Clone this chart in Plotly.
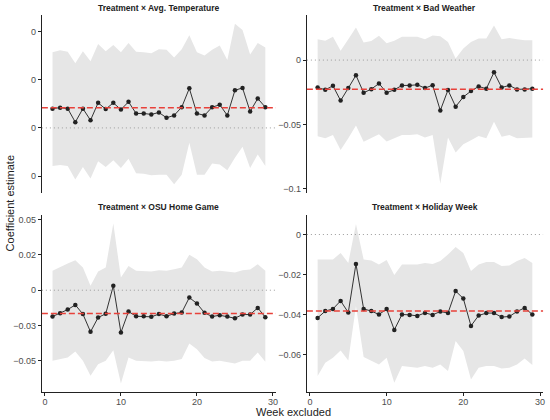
import plotly.graph_objects as go

weeks = list(range(1, 30))

# Treatment x Avg. Temperature (values are tiny, axis labels all round to 0)
temp_est = [0.40, 0.42, 0.40, 0.12, 0.40, 0.16, 0.52, 0.39, 0.52, 0.38, 0.54, 0.30, 0.30, 0.28, 0.32,
            0.21, 0.26, 0.43, 0.82, 0.30, 0.26, 0.43, 0.48, 0.26, 0.78, 0.83, 0.34, 0.61, 0.43]
temp_hi = [1.57, 1.61, 1.58, 1.34, 1.59, 1.38, 1.74, 1.59, 1.72, 1.57, 1.76, 1.58, 1.57, 1.55, 1.63,
           1.62, 1.46, 1.63, 1.92, 1.57, 1.50, 1.62, 1.71, 1.41, 2.16, 2.03, 1.52, 1.76, 1.67]
temp_lo = [-0.79, -0.77, -0.79, -1.07, -0.81, -1.05, -0.69, -0.81, -0.67, -0.83, -0.64, -0.94, -0.95, -0.98, -0.97,
           -0.97, -1.17, -0.97, -0.31, -0.97, -0.97, -0.74, -0.76, -0.88, -0.62, -0.39, -0.83, -0.55, -0.79]
temp_est = [v * 0.001 for v in temp_est]
temp_hi = [v * 0.001 for v in temp_hi]
temp_lo = [v * 0.001 for v in temp_lo]

# Treatment x Bad Weather
bad_est = [-0.0213, -0.0231, -0.0200, -0.0315, -0.0218, -0.0118, -0.0254, -0.0226, -0.0182, -0.0254,
           -0.0231, -0.0197, -0.0197, -0.0192, -0.0218, -0.0195, -0.0392, -0.0233, -0.0362, -0.0287,
           -0.0241, -0.0205, -0.0223, -0.0095, -0.0213, -0.0197, -0.0228, -0.0228, -0.0223]
bad_hi = [0.0162, 0.0151, 0.0182, 0.0072, 0.0162, 0.0254, 0.0136, 0.0149, 0.0190, 0.0131,
          0.0151, 0.0182, 0.0182, 0.0182, 0.0162, 0.0192, 0.0185, 0.0141, 0.0013, 0.0090,
          0.0141, 0.0167, 0.0167, 0.0269, 0.0162, 0.0172, 0.0162, 0.0154, 0.0154]
bad_lo = [-0.0592, -0.0608, -0.0582, -0.0700, -0.0608, -0.0508, -0.0636, -0.0608, -0.0577, -0.0633,
          -0.0608, -0.0582, -0.0582, -0.0577, -0.0603, -0.0582, -0.0962, -0.0603, -0.0718, -0.0654,
          -0.0623, -0.0590, -0.0608, -0.0479, -0.0597, -0.0582, -0.0608, -0.0608, -0.0603]

# Treatment x OSU Home Game
osu_est = [-0.0186, -0.0162, -0.0137, -0.0104, -0.0169, -0.0294, -0.0193, -0.0167, 0.0031, -0.0299,
           -0.0151, -0.0184, -0.0184, -0.0188, -0.0169, -0.0184, -0.0165, -0.0158, -0.0052, -0.0094,
           -0.0160, -0.0186, -0.0177, -0.0186, -0.0198, -0.0172, -0.0172, -0.0125, -0.0191]
osu_hi = [0.0137, 0.0160, 0.0188, 0.0212, 0.0160, 0.0031, 0.0132, 0.0160, 0.0471, 0.0089,
          0.0172, 0.0137, 0.0137, 0.0132, 0.0141, 0.0137, 0.0148, 0.0160, 0.0250, 0.0219,
          0.0160, 0.0132, 0.0137, 0.0132, 0.0125, 0.0141, 0.0146, 0.0184, 0.0137]
osu_lo = [-0.0499, -0.0490, -0.0476, -0.0433, -0.0499, -0.0605, -0.0523, -0.0499, -0.0424, -0.0659,
          -0.0476, -0.0499, -0.0504, -0.0504, -0.0499, -0.0504, -0.0499, -0.0487, -0.0377, -0.0417,
          -0.0480, -0.0504, -0.0499, -0.0511, -0.0518, -0.0499, -0.0499, -0.0440, -0.0506]

# Treatment x Holiday Week
hol_est = [-0.0417, -0.0383, -0.0372, -0.0332, -0.0390, -0.0147, -0.0372, -0.0383, -0.0400, -0.0373,
           -0.0477, -0.0400, -0.0402, -0.0407, -0.0392, -0.0402, -0.0385, -0.0393, -0.0283, -0.0320,
           -0.0457, -0.0405, -0.0393, -0.0393, -0.0413, -0.0410, -0.0385, -0.0367, -0.0400]
hol_hi = [-0.0125, -0.0125, -0.0125, -0.0092, -0.0142, 0.0053, -0.0125, -0.0130, -0.0150, -0.0128,
          -0.0203, -0.0150, -0.0150, -0.0150, -0.0142, -0.0147, -0.0133, -0.0100, -0.0062, -0.0092,
          -0.0183, -0.0150, -0.0138, -0.0138, -0.0158, -0.0155, -0.0133, -0.0117, -0.0142]
hol_lo = [-0.0708, -0.0642, -0.0617, -0.0580, -0.0630, -0.0358, -0.0613, -0.0633, -0.0650, -0.0617,
          -0.0742, -0.0658, -0.0662, -0.0667, -0.0658, -0.0667, -0.0650, -0.0683, -0.0533, -0.0583,
          -0.0725, -0.0667, -0.0658, -0.0658, -0.0670, -0.0667, -0.0650, -0.0620, -0.0653]

titles = ["Treatment × Avg. Temperature", "Treatment × Bad Weather",
          "Treatment × OSU Home Game", "Treatment × Holiday Week"]
full_est = [0.00042, -0.0227, -0.0165, -0.0383]

tick_vals = [
    [-0.001, 0, 0.001, 0.002],
    [-0.1, -0.05, 0],
    [-0.05, -0.025, 0, 0.025, 0.05],
    [-0.06, -0.04, -0.02, 0],
]
tick_text = [
    ["0", "0", "0", "0"],
    ["−0.1", "−0.05", "0"],
    ["−0.05", "−0.03", "0", "0.02", "0.05"],
    ["−0.06", "−0.04", "−0.02", "0"],
]
y_ranges = [[-0.00134, 0.00234], [-0.103, 0.035], [-0.072, 0.0535], [-0.0788, 0.010]]

panels = [(temp_est, temp_hi, temp_lo), (bad_est, bad_hi, bad_lo),
          (osu_est, osu_hi, osu_lo), (hol_est, hol_hi, hol_lo)]

x_doms = [[0.0764, 0.5036], [0.56, 0.991], [0.0764, 0.5036], [0.56, 0.991]]
y_doms = [[0.5405, 0.964], [0.5405, 0.964], [0.0643, 0.488], [0.0643, 0.488]]
title_y = [0.981, 0.981, 0.507, 0.507]

FONT = "Liberation Sans, Arial, sans-serif"
fig = go.Figure()

for i, (est, hi, lo) in enumerate(panels):
    xa = "x" if i == 0 else "x%d" % (i + 1)
    ya = "y" if i == 0 else "y%d" % (i + 1)
    fig.add_trace(go.Scatter(x=weeks, y=hi, mode="lines", line=dict(width=0),
                             xaxis=xa, yaxis=ya, hoverinfo="skip"))
    fig.add_trace(go.Scatter(x=weeks, y=lo, mode="lines", line=dict(width=0),
                             fill="tonexty", fillcolor="#e6e6e6",
                             xaxis=xa, yaxis=ya, hoverinfo="skip"))
    # zero reference and full-sample estimate
    fig.add_shape(type="line", xref=xa + " domain", yref=ya, x0=0, x1=1, y0=0, y1=0,
                  line=dict(color="#9a9a9a", width=1, dash="1px,3px"))
    fig.add_shape(type="line", xref=xa + " domain", yref=ya, x0=0, x1=1,
                  y0=full_est[i], y1=full_est[i],
                  line=dict(color="#e8413a", width=1.5, dash="6px,3px"))
    fig.add_trace(go.Scatter(x=weeks, y=est, mode="lines+markers",
                             line=dict(color="#333333", width=1),
                             marker=dict(color="#222222", size=4.5),
                             xaxis=xa, yaxis=ya))

    bottom = i >= 2
    xkey = "xaxis" if i == 0 else "xaxis%d" % (i + 1)
    ykey = "yaxis" if i == 0 else "yaxis%d" % (i + 1)
    fig.update_layout({
        xkey: dict(domain=x_doms[i], anchor=ya, range=[-0.4, 30.4],
                   visible=bottom, showline=bottom, linecolor="#222222", linewidth=1,
                   showgrid=False, zeroline=False, ticks="outside", ticklen=3,
                   tickcolor="#222222", tickvals=[0, 10, 20, 30], ticklabelstandoff=-2,
                   tickfont=dict(family=FONT, size=9, color="#4d4d4d")),
        ykey: dict(domain=y_doms[i], anchor=xa, range=y_ranges[i],
                   showline=True, linecolor="#222222", linewidth=1,
                   showgrid=False, zeroline=False, ticks="outside", ticklen=3,
                   tickcolor="#222222", tickvals=tick_vals[i], ticktext=tick_text[i],
                   tickfont=dict(family=FONT, size=9, color="#4d4d4d")),
    })
    fig.add_annotation(text="<b>%s</b>" % titles[i], xref="paper", yref="paper",
                       x=sum(x_doms[i]) / 2, y=title_y[i],
                       xanchor="center", yanchor="middle", showarrow=False,
                       font=dict(family=FONT, size=8.5, color="#222222"))

fig.add_annotation(text="Coefficient estimate", xref="paper", yref="paper",
                   x=0.004, y=0.515, textangle=-90, xanchor="left", yanchor="middle",
                   showarrow=False, font=dict(family=FONT, size=11, color="#222222"))
fig.add_annotation(text="Week excluded", xref="paper", yref="paper",
                   x=0.535, y=0.0, xanchor="center", yanchor="bottom", borderpad=0,
                   showarrow=False, font=dict(family=FONT, size=11, color="#222222"))

fig.update_layout(width=550, height=420, margin=dict(l=0, r=0, t=0, b=0),
                  plot_bgcolor="white", paper_bgcolor="white", showlegend=False)

fig.write_html("out.html", config={"displayModeBar": False},
               post_script="document.body.style.margin='0';")
